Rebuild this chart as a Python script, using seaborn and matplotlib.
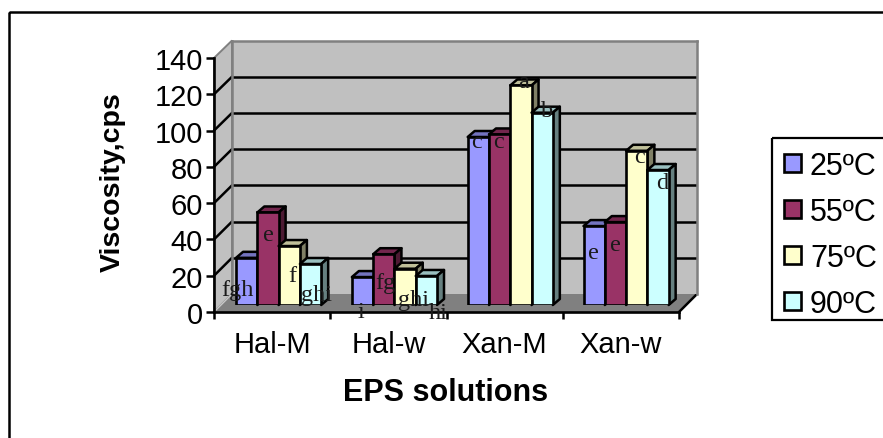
import matplotlib
matplotlib.use("Agg")
import matplotlib.pyplot as plt
import numpy as np
import pandas as pd
import seaborn as sns
from matplotlib.colors import to_rgb
from matplotlib.lines import Line2D
from matplotlib.patches import Patch, Polygon, Rectangle
from matplotlib.transforms import Affine2D, IdentityTransform

categories = ["Hal-M", "Hal-w", "Xan-M", "Xan-w"]
temps = ["25ºC", "55ºC", "75ºC", "90ºC"]
v25 = [26, 15.4, 92.6, 43.5]
v55 = [51, 28, 94, 45.7]
v75 = [32.5, 20, 121, 85]
v90 = [22.6, 16, 106, 74.4]
colors = ["#9999FF", "#993366", "#FFFFCC", "#CCFFFF"]
letters = [["fgh", "i", "c", "e"], ["e", "fg", "c", "e"],
           ["f", "ghi", "a", "c"], ["ghi", "hi", "b", "d"]]
# label offsets from the top centre of each bar, in pixels (right, down)
label_dx = [[-9, -2, -2, -1], [0, 2, -1, 0], [3, 8, 3, 3], [6, 12, 5, 4]]
label_dy = [[32, 34, 5, 26], [22, 28, 7, 22], [29, 31, -4, 6], [31, 37, -2, 12]]
yticks = list(range(0, 141, 20))

W, H = 883, 439
sns.set_theme(style="white")
plt.rcParams["font.family"] = ["Liberation Sans", "DejaVu Sans"]
fig = plt.figure(figsize=(W / 100, H / 100), dpi=100, facecolor="white")
px = Affine2D().scale(1, -1).translate(0, H)  # image pixels -> display


def axes_px(left, top, right, bottom, **kw):
    return fig.add_axes([left / W, 1 - bottom / H, (right - left) / W, (bottom - top) / H], **kw)


# outer chart-area frame runs off the image on the right and bottom
fig.add_artist(Rectangle((9, 13), 1000, 1000, transform=px, fill=False, ec="black", lw=1.8))
# legend frame, also cut by the image edge
fig.add_artist(Rectangle((772, 139), 300, 181.5, transform=px, fill=False, ec="black", lw=1.6))

# back wall
wall = axes_px(232, 41.5, 697, 295, zorder=1)
wall.set_facecolor("#C0C0C0")
wall.set_xlim(0, 1)
wall.set_ylim(0, 140)
wall.set_xticks([])
wall.set_yticks(yticks[1:-1])
wall.tick_params(length=0, labelleft=False)
wall.grid(axis="y", color="black", lw=1.8)
wall.set_axisbelow(True)
for s in ["top", "right", "left"]:
    wall.spines[s].set_color("#808080")
    wall.spines[s].set_linewidth(1.8)
wall.spines["bottom"].set_visible(False)

# front axis carrying ticks and labels
front = axes_px(214, 59, 679, 313, zorder=2)
front.patch.set_alpha(0)
front.set_xlim(-0.5, 3.5)
front.set_ylim(0, 140)
front.set_yticks(yticks)
front.set_xticks(range(4), categories)
front.set_xticks(np.arange(-0.5, 4), minor=True)
front.tick_params(axis="y", left=True, length=6, width=1.8, color="black", labelsize=21, pad=2, labelcolor="black")
front.tick_params(axis="x", which="major", length=0, labelsize=21, pad=13, labelcolor="black")
front.tick_params(axis="x", which="minor", bottom=True, length=5, width=1.8, color="black")
for s in ["top", "right"]:
    front.spines[s].set_visible(False)
for s in ["left", "bottom"]:
    front.spines[s].set_color("black")
    front.spines[s].set_linewidth(1.9)
front.set_xlabel("EPS solutions", fontsize=22, fontweight="bold", color="black", va="center")
front.xaxis.set_label_coords(0.499, -0.315)
front.set_ylabel("Viscosity,cps", fontsize=20.5, fontweight="bold", color="black", va="center")
front.yaxis.set_label_coords(-0.217, 0.516)

fig.canvas.draw()
corner = lambda a, x, y: tuple(a.transData.transform((x, y)))
fl, fr = corner(front, -0.5, 0), corner(front, 3.5, 0)
bl, br = corner(wall, 0, 0), corner(wall, 1, 0)
tfl, tbl = corner(front, -0.5, 140), corner(wall, 0, 140)
# floor and side wall
fig.add_artist(Polygon([fl, fr, br, bl], transform=IdentityTransform(), fc="#808080", ec="#808080", lw=1, zorder=0.5))
fig.add_artist(Polygon([fl, bl, tbl, tfl], transform=IdentityTransform(), fc="#C0C0C0", ec="#808080", lw=1.4, zorder=0.5))
for v in yticks[1:-1]:
    fig.add_artist(Line2D(*zip(corner(front, -0.5, v), corner(wall, 0, v)), transform=IdentityTransform(),
                          color="black", lw=1.8, zorder=0.6))
fig.add_artist(Line2D(*zip(fr, br), transform=IdentityTransform(), color="black", lw=1.8, zorder=0.6))
fig.add_artist(Line2D(*zip(fl, bl), transform=IdentityTransform(), color="#C8C8C8", lw=1, zorder=0.6))

# bars
df = pd.DataFrame({
    "sample": categories * 4,
    "temp": np.repeat(temps, 4),
    "viscosity": v25 + v55 + v75 + v90,
})
ax = axes_px(220.7, 52, 684, 306, zorder=3)
sns.barplot(data=df, x="sample", y="viscosity", hue="temp", hue_order=temps, palette=colors,
            order=categories, width=0.735, saturation=1, edgecolor="black", linewidth=1.9,
            legend=False, ax=ax)
ax.set_xlim(-0.5, 3.5)
ax.set_ylim(0, 140)
ax.axis("off")
fig.canvas.draw()

DX, DY = 7, 6
for i, cont in enumerate(ax.containers):
    rgb = np.array(to_rgb(colors[i]))
    for j, bar in enumerate(cont):
        bar.set_zorder(3 + 2 * i + 1)
        (x0, y0), (x1, y1) = ax.transData.transform([(bar.get_x(), 0), (bar.get_x() + bar.get_width(), bar.get_height())])
        top = [(x0, y1), (x1, y1), (x1 + DX, y1 + DY), (x0 + DX, y1 + DY)]
        side = [(x1, y0), (x1 + DX, y0 + DY), (x1 + DX, y1 + DY), (x1, y1)]
        for pts, shade in ((top, 0.75), (side, 0.5)):
            ax.add_patch(Polygon(pts, transform=IdentityTransform(), fc=rgb * shade, ec="black",
                                 lw=1.8, zorder=3 + 2 * i, clip_on=False, joinstyle="round"))
        ax.annotate(letters[i][j], xy=(bar.get_x() + bar.get_width() / 2, bar.get_height()),
                    xytext=(label_dx[i][j], -label_dy[i][j]), textcoords="offset pixels",
                    ha="center", va="center", fontsize=17.5, family="Liberation Serif",
                    color="#1a1a1a", zorder=20, annotation_clip=False)

handles = [Patch(fc=c, ec="black", lw=1.9, label=t) for c, t in zip(colors, temps)]
fig.legend(handles=handles, loc="upper left", bbox_to_anchor=(784 / W, 1 - 152 / H), frameon=False,
           fontsize=22, handlelength=0.55, handleheight=0.55, handletextpad=0.3, labelspacing=0.52,
           borderpad=0, borderaxespad=0, labelcolor="black")

fig.savefig("out.png", dpi=100, facecolor="white")
